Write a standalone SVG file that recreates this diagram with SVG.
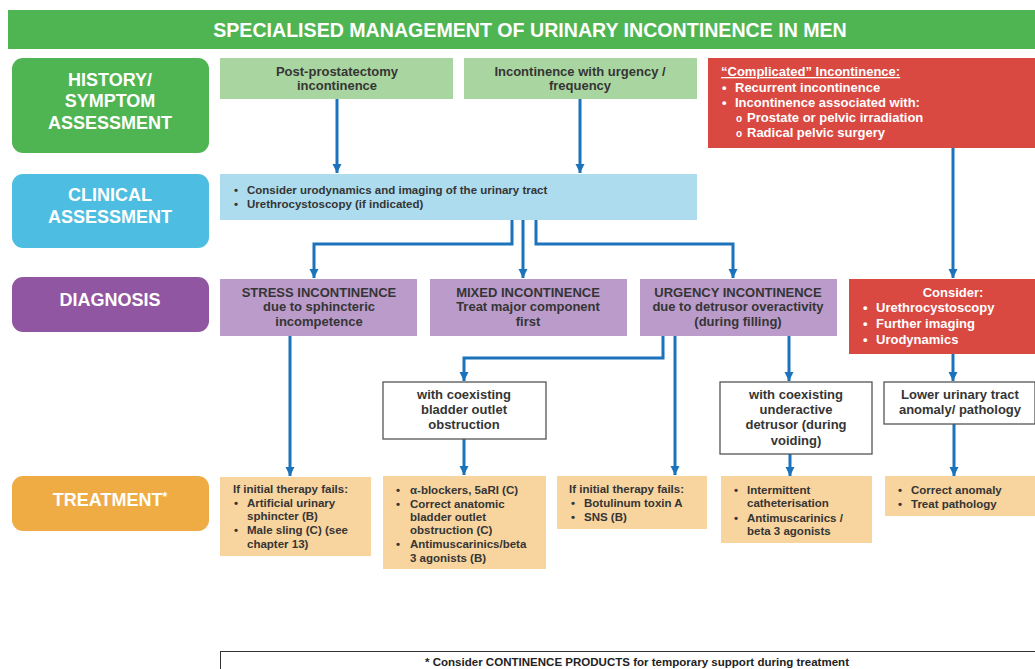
<svg xmlns="http://www.w3.org/2000/svg" width="1035" height="669" viewBox="0 0 1035 669">
<defs>
<marker id="ah" markerUnits="userSpaceOnUse" markerWidth="10" markerHeight="10" refX="9" refY="5" orient="auto">
<path d="M0,0.5 L9,5 L0,9.5 z" fill="#1b73bb"/>
</marker>
<style>
text{font-family:"Liberation Sans",Arial,sans-serif;font-weight:bold;}
.lbl{fill:#fff;font-size:18px;text-anchor:middle;}
.t{fill:#353535;font-size:13px;}
.s{fill:#353535;font-size:11.5px;}
.w{fill:#fff;font-size:13px;}
.c{text-anchor:middle;}
.con{fill:none;stroke:#1b73bb;stroke-width:3;}
.arr{marker-end:url(#ah);}
.wb{fill:#fff;stroke:#555;stroke-width:1.3;}
.tb{fill:#f8d49e;}
.pb{fill:#bb9bca;}
.gb{fill:#a9d5a0;}
.rb{fill:#d94841;}
</style>
</defs>
<rect width="1035" height="669" fill="#fff"/>

<g id="title">
<rect x="8" y="10" width="1027" height="39" fill="#4fb553"/>
<text x="530" y="37" class="lbl" style="font-size:19.6px">SPECIALISED MANAGEMENT OF URINARY INCONTINENCE IN MEN</text>
</g>

<g id="lbl-history">
<rect x="12" y="58" width="197" height="95" rx="11" fill="#4fb553"/>
<text x="110" y="86" class="lbl">HISTORY/</text>
<text x="110" y="107" class="lbl">SYMPTOM</text>
<text x="110" y="129" class="lbl">ASSESSMENT</text>
</g>
<g id="lbl-clinical">
<rect x="12" y="174" width="197" height="74" rx="11" fill="#4dbee1"/>
<text x="110" y="201" class="lbl">CLINICAL</text>
<text x="110" y="223" class="lbl">ASSESSMENT</text>
</g>
<g id="lbl-diagnosis">
<rect x="12" y="277" width="197" height="55" rx="11" fill="#9156a1"/>
<text x="110" y="306" class="lbl">DIAGNOSIS</text>
</g>
<g id="lbl-treatment">
<rect x="12" y="476" width="197" height="55" rx="11" fill="#f0ac44"/>
<text x="110" y="506" class="lbl">TREATMENT<tspan font-size="12" dy="-5">*</tspan></text>
</g>

<g id="connectors">
<line x1="337" y1="99" x2="337" y2="173" class="con arr"/>
<line x1="580" y1="99" x2="580" y2="173" class="con arr"/>
<line x1="953" y1="148" x2="953" y2="278" class="con arr"/>
<polyline points="512,220 512,244 314,244 314,278" class="con arr"/>
<line x1="523" y1="220" x2="523" y2="278" class="con arr"/>
<polyline points="536,220 536,244 733,244 733,278" class="con arr"/>
<line x1="290" y1="336" x2="290" y2="476" class="con arr"/>
<polyline points="663,336 663,358 464,358 464,381" class="con arr"/>
<line x1="675" y1="336" x2="675" y2="475" class="con arr"/>
<line x1="789" y1="336" x2="789" y2="381" class="con arr"/>
<line x1="953" y1="354" x2="953" y2="381" class="con arr"/>
<line x1="464" y1="439" x2="464" y2="475" class="con arr"/>
<line x1="790" y1="454" x2="790" y2="476" class="con arr"/>
<line x1="954" y1="424" x2="954" y2="476" class="con arr"/>
</g>

<g id="n-postprostatectomy">
<rect x="220" y="58" width="233" height="41" class="gb"/>
<text x="337" y="76" class="t c">Post-prostatectomy</text>
<text x="337" y="90" class="t c">incontinence</text>
</g>
<g id="n-urgency-frequency">
<rect x="464" y="58" width="233" height="41" class="gb"/>
<text x="580" y="76" class="t c">Incontinence with urgency /</text>
<text x="580" y="90" class="t c">frequency</text>
</g>
<g id="n-complicated">
<rect x="708" y="58" width="327" height="90" class="rb"/>
<text x="721" y="76" class="w" text-decoration="underline">“Complicated” Incontinence:</text>
<text x="722" y="92" class="w">•</text><text x="735" y="92" class="w">Recurrent incontinence</text>
<text x="722" y="107" class="w">•</text><text x="735" y="107" class="w">Incontinence associated with:</text>
<text x="736" y="122" class="w" style="font-size:10px">o</text><text x="747" y="122" class="w">Prostate or pelvic irradiation</text>
<text x="736" y="137" class="w" style="font-size:10px">o</text><text x="747" y="137" class="w">Radical pelvic surgery</text>
</g>

<g id="n-clinical">
<rect x="220" y="174" width="477" height="46" fill="#addcee"/>
<text x="234" y="194" class="s">•</text><text x="247" y="194" class="s">Consider urodynamics and imaging of the urinary tract</text>
<text x="234" y="208" class="s">•</text><text x="247" y="208" class="s">Urethrocystoscopy (if indicated)</text>
</g>

<g id="n-stress">
<rect x="220" y="279" width="197" height="57" class="pb"/>
<text x="319" y="297" class="t c">STRESS INCONTINENCE</text>
<text x="319" y="311" class="t c">due to sphincteric</text>
<text x="319" y="326" class="t c">incompetence</text>
</g>
<g id="n-mixed">
<rect x="430" y="279" width="197" height="57" class="pb"/>
<text x="528" y="297" class="t c">MIXED INCONTINENCE</text>
<text x="528" y="311" class="t c">Treat major component</text>
<text x="528" y="326" class="t c">first</text>
</g>
<g id="n-urgency">
<rect x="640" y="279" width="197" height="57" class="pb"/>
<text x="738" y="297" class="t c">URGENCY INCONTINENCE</text>
<text x="738" y="311" class="t c">due to detrusor overactivity</text>
<text x="738" y="326" class="t c">(during filling)</text>
</g>
<g id="n-consider">
<rect x="849" y="279" width="186" height="75" class="rb"/>
<text x="953" y="297" class="w c">Consider:</text>
<text x="863" y="312" class="w">•</text><text x="876" y="312" class="w">Urethrocystoscopy</text>
<text x="863" y="328" class="w">•</text><text x="876" y="328" class="w">Further imaging</text>
<text x="863" y="344" class="w">•</text><text x="876" y="344" class="w">Urodynamics</text>
</g>

<g id="n-outlet">
<rect x="383" y="382" width="163" height="57" class="wb"/>
<text x="464" y="399" class="t c">with coexisting</text>
<text x="464" y="414" class="t c">bladder outlet</text>
<text x="464" y="429" class="t c">obstruction</text>
</g>
<g id="n-underactive">
<rect x="720" y="382" width="152" height="72" class="wb"/>
<text x="796" y="399" class="t c">with coexisting</text>
<text x="796" y="414" class="t c">underactive</text>
<text x="796" y="429" class="t c">detrusor (during</text>
<text x="796" y="445" class="t c">voiding)</text>
</g>
<g id="n-anomaly">
<rect x="884" y="382" width="151" height="42" class="wb"/>
<text x="960" y="399" class="t c">Lower urinary tract</text>
<text x="960" y="414" class="t c">anomaly/ pathology</text>
</g>

<g id="t-stress">
<rect x="220" y="477" width="151" height="79" class="tb"/>
<text x="233" y="493" class="s">If initial therapy fails:</text>
<text x="234" y="507" class="s">•</text><text x="247" y="507" class="s">Artificial urinary</text>
<text x="247" y="520" class="s">sphincter (B)</text>
<text x="234" y="534" class="s">•</text><text x="247" y="534" class="s">Male sling (C) (see</text>
<text x="247" y="548" class="s">chapter 13)</text>
</g>
<g id="t-outlet">
<rect x="383" y="476" width="163" height="93" class="tb"/>
<text x="396" y="494" class="s">•</text><text x="410" y="494" class="s">α-blockers, 5aRI (C)</text>
<text x="396" y="508" class="s">•</text><text x="410" y="508" class="s">Correct anatomic</text>
<text x="410" y="521" class="s">bladder outlet</text>
<text x="410" y="534" class="s">obstruction (C)</text>
<text x="396" y="548" class="s">•</text><text x="410" y="548" class="s">Antimuscarinics/beta</text>
<text x="410" y="562" class="s">3 agonists (B)</text>
</g>
<g id="t-urgency">
<rect x="557" y="476" width="150" height="53" class="tb"/>
<text x="569" y="493" class="s">If initial therapy fails:</text>
<text x="571" y="507" class="s">•</text><text x="584" y="507" class="s">Botulinum toxin A</text>
<text x="571" y="521" class="s">•</text><text x="584" y="521" class="s">SNS (B)</text>
</g>
<g id="t-underactive">
<rect x="721" y="476" width="151" height="67" class="tb"/>
<text x="734" y="494" class="s">•</text><text x="747" y="494" class="s">Intermittent</text>
<text x="747" y="507" class="s">catheterisation</text>
<text x="734" y="522" class="s">•</text><text x="747" y="522" class="s">Antimuscarinics /</text>
<text x="747" y="535" class="s">beta 3 agonists</text>
</g>
<g id="t-anomaly">
<rect x="885" y="476" width="150" height="40" class="tb"/>
<text x="898" y="494" class="s">•</text><text x="911" y="494" class="s">Correct anomaly</text>
<text x="898" y="508" class="s">•</text><text x="911" y="508" class="s">Treat pathology</text>
</g>

<g id="footnote">
<rect x="220.5" y="651.5" width="820" height="30" fill="#fff" stroke="#333" stroke-width="1"/>
<text x="637" y="666" class="s c" style="font-size:10px;fill:#222" textLength="424" lengthAdjust="spacingAndGlyphs">* Consider CONTINENCE PRODUCTS for temporary support during treatment</text>
</g>
</svg>
